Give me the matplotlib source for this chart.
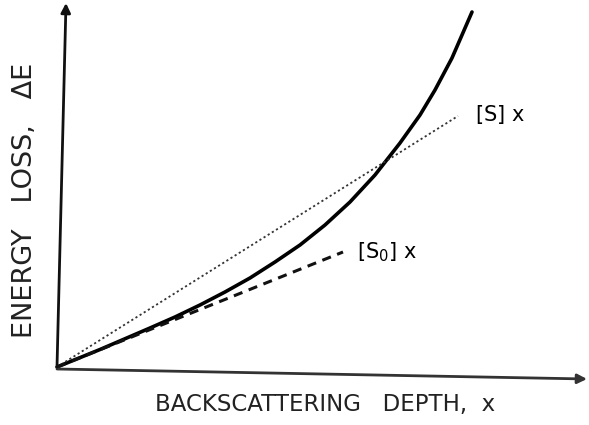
import matplotlib
matplotlib.use("Agg")
import matplotlib.pyplot as plt

# Solid curve: energy loss vs depth (schematic, arbitrary units)
depth = [0.0, 0.43, 0.93, 1.18, 1.43, 1.68, 1.93, 2.18, 2.43, 2.68, 2.93,
         3.18, 3.43, 3.63, 3.78, 3.95, 4.15]
energy_loss = [0.0, 0.175, 0.39, 0.50, 0.62, 0.75, 0.89, 1.05, 1.22, 1.42,
               1.65, 1.92, 2.24, 2.52, 2.77, 3.09, 3.55]

# Straight approximations
s_line_x = [0.0, 4.01]
s_line_y = [0.0, 2.51]
s0_line_x = [0.0, 2.86]
s0_line_y = [0.0, 1.15]

x_label = "BACKSCATTERING   DEPTH,  x"
y_label = "ENERGY   LOSS,   ΔE"
s_label = r"$\mathrm{[S]}\ \mathrm{x}$"
s0_label = r"$\mathrm{[S_0]}\ \mathrm{x}$"

fig = plt.figure(figsize=(5.89, 4.25), dpi=100)
W, H = 589, 425
ax = fig.add_axes([57 / W, (H - 367) / H, 530 / W, 364 / H])
ax.set_xlim(0, 5.30)
ax.set_ylim(0, 3.64)
ax.axis("off")

# axes drawn as arrows (slightly tilted like the scan)
ax.annotate("", xy=(5.30, -0.12), xytext=(0, -0.02),
            arrowprops=dict(arrowstyle="-|>", color="#333333", lw=2.0,
                            mutation_scale=14, shrinkA=0, shrinkB=0),
            annotation_clip=False)
ax.annotate("", xy=(0.09, 3.64), xytext=(0, 0),
            arrowprops=dict(arrowstyle="-|>", color="#111111", lw=2.0,
                            mutation_scale=14, shrinkA=0, shrinkB=0),
            annotation_clip=False)

ax.plot(depth, energy_loss, color="black", lw=2.6, solid_capstyle="round",
        solid_joinstyle="round", clip_on=False)
ax.plot(s_line_x, s_line_y, color="#333333", lw=1.3, ls=(0, (1.2, 1.5)),
        clip_on=False)
ax.plot(s0_line_x, s0_line_y, color="#111111", lw=2.2, ls=(0, (3, 2.2)),
        clip_on=False)

ax.text(4.18, 2.52, s_label, fontsize=15, va="center", ha="left")
ax.text(3.00, 1.15, s0_label, fontsize=15, va="center", ha="left")

fig.text(325 / W, 1 - 405 / H, x_label, fontsize=16.5, ha="center",
         va="center", color="#222222")
fig.text(25 / W, 1 - 200 / H, y_label, fontsize=19.5, ha="center",
         va="center", rotation=90, color="#222222")

fig.savefig("out.png", dpi=100, facecolor="white")
